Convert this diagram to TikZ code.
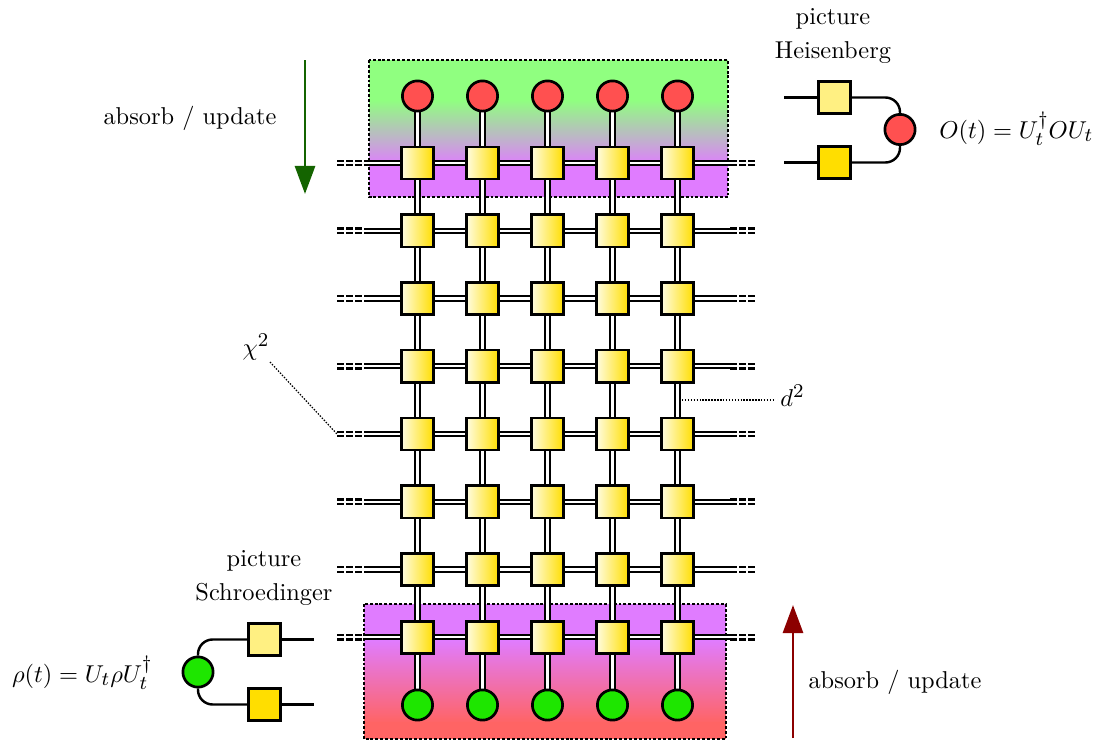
\documentclass[tikz,border=0pt]{standalone}
\usetikzlibrary{arrows.meta,calc}
\DeclareMathSizes{10}{10.3}{8}{6}
\pgfdeclarelayer{bg}
\pgfsetlayers{bg,main}
\definecolor{boxgreen}{RGB}{144,255,128}
\definecolor{boxpurple}{RGB}{224,124,255}
\definecolor{boxred}{RGB}{255,100,100}
\definecolor{cred}{RGB}{255,80,80}
\definecolor{cgreen}{RGB}{30,230,0}
\definecolor{sqlight}{RGB}{255,252,225}
\definecolor{sqdark}{RGB}{255,222,0}
\definecolor{hlight}{RGB}{255,240,130}
\definecolor{arrgreen}{RGB}{20,100,0}
\definecolor{arrred}{RGB}{140,0,0}
\begin{document}
\begin{tikzpicture}[x=0.41pt,y=-0.41pt,
  tensor/.style={draw,line width=1.1pt,minimum size=13.2pt,inner sep=0pt,left color=sqlight,right color=sqdark},
  plainsq/.style={draw,line width=1.1pt,minimum size=13.2pt,inner sep=0pt},
  blob/.style={circle,draw,line width=1.1pt,minimum size=12.4pt,inner sep=0pt},
  dbl/.style={double,line width=0.8pt,double distance=1pt},
  dbldash/.style={double,line width=0.9pt,double distance=0.9pt,dash pattern=on 2.9pt off 0.85pt},
  leg/.style={line width=1pt},
  guide/.style={line width=0.5pt,dash pattern=on 0.6pt off 0.6pt},
  frame/.style={line width=0.5pt,dash pattern=on 1.2pt off 0.8pt},
  flow/.style={line width=1.2pt,-{Triangle[length=11.5pt,width=8.2pt]}},
  lbl/.style={inner sep=1pt}]
\useasboundingbox (0,0) rectangle (1107,740);

% network nodes
\foreach \i in {1,...,5} {
  \pgfmathsetmacro\xx{417.5+65*(\i-1)}
  \node[blob,fill=cred] (t-\i) at (\xx,96) {};
  \node[blob,fill=cgreen] (b-\i) at (\xx,705) {};
  \foreach \j in {1,...,8} {
    \pgfmathsetmacro\yy{163+67.75*(\j-1)}
    \node[tensor] (s-\i-\j) at (\xx,\yy) {};
  }
}
\foreach \j in {1,...,8} {
  \pgfmathsetmacro\yy{163+67.75*(\j-1)}
  \coordinate (Ld-\j) at (337,\yy);
  \coordinate (Lc-\j) at (364,\yy);
  \coordinate (Rc-\j) at (730,\yy);
  \coordinate (Rd-\j) at (757,\yy);
}

\begin{pgfonlayer}{bg}
  % top box
  \fill[boxgreen] (369,60) rectangle (728,101);
  \shade[top color=boxgreen,bottom color=boxpurple] (369,100) rectangle (728,166);
  \fill[boxpurple] (369,165) rectangle (728,197);
  \draw[frame] (369,60) rectangle (728,197);
  % bottom box
  \fill[boxpurple] (364,604) rectangle (726,641);
  \shade[top color=boxpurple,bottom color=boxred] (364,640) rectangle (726,723);
  \fill[boxred] (364,722) rectangle (726,739);
  \draw[frame] (364,604) rectangle (726,739);
  % bonds
  \foreach \i in {1,...,5} {
    \draw[dbl] (t-\i.center) -- (b-\i.center);
  }
  \foreach \j in {1,...,8} {
    \draw[dbl] (Lc-\j) -- (Rc-\j);
    \draw[dbldash] (Ld-\j) -- (Lc-\j);
    \draw[dbldash] (Rc-\j) -- (Rd-\j);
  }
\end{pgfonlayer}

% arrows and labels
\coordinate (ga1) at (305,60);
\coordinate (ga2) at (305,194);
\draw[flow,arrgreen] (ga1) -- (ga2);
\coordinate (ra1) at (793,738);
\coordinate (ra2) at (793,605);
\draw[flow,arrred] (ra1) -- (ra2);
\node (absL) at (190,118) {absorb / update};
\node (absR) at (895,682) {absorb / update};

% chi and d labels
\node[lbl] (chi) at (256,347) {$\chi^2$};
\coordinate (chil) at (270,362);
\draw[guide] (chil) -- (Ld-5);
\node[anchor=west,inner sep=2.8pt] (dd) at (773,396) {$d^2$};
\coordinate (ddl) at (682,400);
\draw[guide] (ddl) -- (ddl -| dd.west);

% Heisenberg picture
\node[align=center] (hlab) at (833,36) {picture\\[2.3pt]Heisenberg};
\node[plainsq,fill=hlight] (hA) at (834.5,97.5) {};
\node[plainsq,fill=sqdark] (hB) at (834.5,162.5) {};
\node[blob,fill=cred] (hC) at (900,129.5) {};
\coordinate (hA0) at (784,97.5);
\coordinate (hB0) at (784,162.5);
\draw[leg] (hA0) -- (hA);
\draw[leg] (hB0) -- (hB);
\draw[leg,rounded corners=6pt] (hA) -| (hC);
\draw[leg,rounded corners=6pt] (hB) -| (hC);
\node[anchor=west,inner sep=2pt] (hform) at (934,129) {$O(t)=U_t^\dagger O U_t$};

% Schroedinger picture
\node[align=center] (slab) at (264,578) {picture\\[2.3pt]Schroedinger};
\node[plainsq,fill=hlight] (sA) at (264.5,639.5) {};
\node[plainsq,fill=sqdark] (sB) at (264.5,704.5) {};
\node[blob,fill=cgreen] (sC) at (198,672) {};
\coordinate (sA0) at (314,639.5);
\coordinate (sB0) at (314,704.5);
\draw[leg] (sA) -- (sA0);
\draw[leg] (sB) -- (sB0);
\draw[leg,rounded corners=6pt] (sA) -| (sC);
\draw[leg,rounded corners=6pt] (sB) -| (sC);
\node[anchor=east,inner sep=2pt] (sform) at (158,673) {$\rho(t)=U_t\rho U_t^\dagger$};
\end{tikzpicture}
\end{document}
